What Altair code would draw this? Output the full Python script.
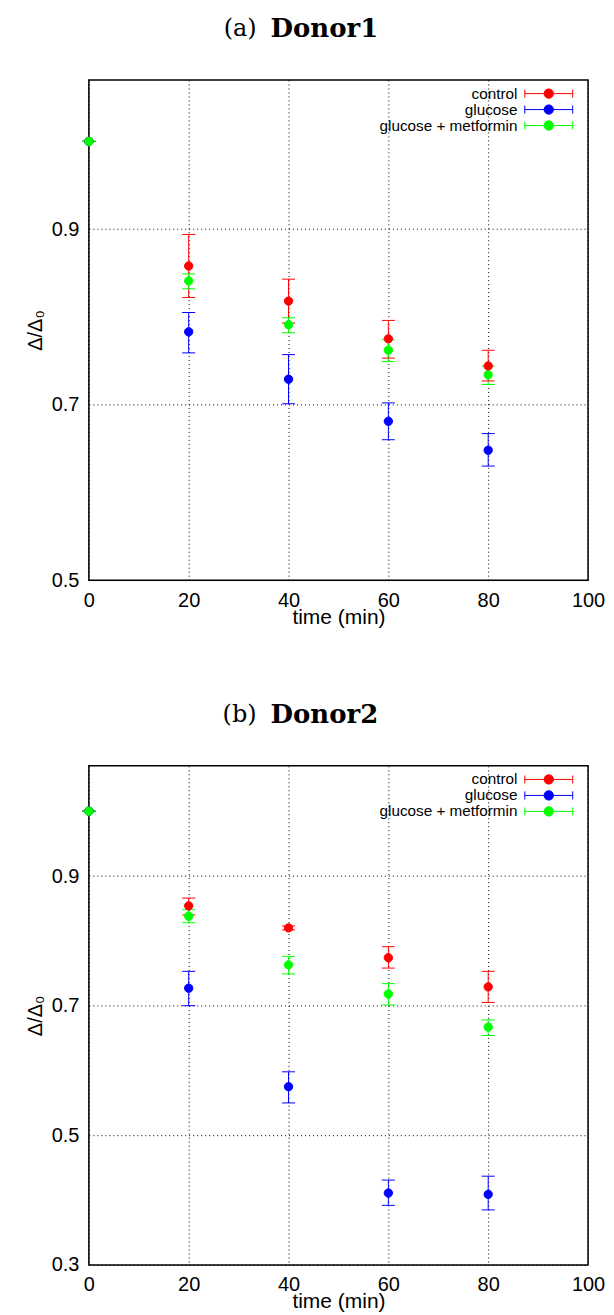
import altair as alt
import pandas as pd

times = [0, 20, 40, 60, 80]
series_names = ["control", "glucose", "glucose + metformin"]
series_colors = ["#ff0000", "#0000ff", "#00ff00"]

# Donor1
d1_control = [1.0, 0.858, 0.818, 0.775, 0.744]
d1_control_lo = [1.0, 0.822, 0.793, 0.753, 0.727]
d1_control_hi = [1.0, 0.894, 0.843, 0.796, 0.762]
d1_glucose = [1.0, 0.783, 0.729, 0.681, 0.648]
d1_glucose_lo = [1.0, 0.759, 0.701, 0.660, 0.630]
d1_glucose_hi = [1.0, 0.805, 0.757, 0.702, 0.667]
d1_metformin = [1.0, 0.841, 0.791, 0.762, 0.734]
d1_metformin_lo = [1.0, 0.832, 0.782, 0.749, 0.723]
d1_metformin_hi = [1.0, 0.849, 0.799, 0.774, 0.744]

# Donor2
d2_control = [1.0, 0.854, 0.820, 0.774, 0.729]
d2_control_lo = [1.0, 0.840, 0.817, 0.758, 0.705]
d2_control_hi = [1.0, 0.866, 0.823, 0.791, 0.753]
d2_glucose = [1.0, 0.727, 0.575, 0.411, 0.409]
d2_glucose_lo = [1.0, 0.700, 0.550, 0.392, 0.385]
d2_glucose_hi = [1.0, 0.753, 0.598, 0.431, 0.437]
d2_metformin = [1.0, 0.838, 0.763, 0.718, 0.667]
d2_metformin_lo = [1.0, 0.828, 0.749, 0.701, 0.654]
d2_metformin_hi = [1.0, 0.848, 0.776, 0.734, 0.678]

x_ticks = [0, 20, 40, 60, 80, 100]
d1_y_ticks = [0.5, 0.7, 0.9]
d2_y_ticks = [0.3, 0.5, 0.7, 0.9]
d1_y_domain = [0.5, 1.07]
d2_y_domain = [0.3, 1.07]

panel_tags = ["(a)", "(b)"]
panel_names = ["Donor1", "Donor2"]

# legend symbol: horizontal error bar with caps and a filled dot,
# drawn to the right of the label
ERRBAR_PATH = ("M2.5,0H10.5M2.5,-0.67V0.67M10.5,-0.67V0.67"
               "M5.72,0A0.78,0.78,0,1,1,7.28,0A0.78,0.78,0,1,1,5.72,0Z")


def build_df(ctrl, ctrl_lo, ctrl_hi, glu, glu_lo, glu_hi, met, met_lo, met_hi):
    rows = []
    for name, m, lo, hi in [
        (series_names[0], ctrl, ctrl_lo, ctrl_hi),
        (series_names[1], glu, glu_lo, glu_hi),
        (series_names[2], met, met_lo, met_hi),
    ]:
        for t, a, b, c in zip(times, m, lo, hi):
            rows.append({"time": t, "series": name, "mean": a, "lo": b, "hi": c})
    return pd.DataFrame(rows)


df1 = build_df(d1_control, d1_control_lo, d1_control_hi,
               d1_glucose, d1_glucose_lo, d1_glucose_hi,
               d1_metformin, d1_metformin_lo, d1_metformin_hi)
df2 = build_df(d2_control, d2_control_lo, d2_control_hi,
               d2_glucose, d2_glucose_lo, d2_glucose_hi,
               d2_metformin, d2_metformin_lo, d2_metformin_hi)


def panel(df, ydom, yticks, h, tag, name):
    color_scale = alt.Scale(domain=series_names, range=series_colors)
    xs = alt.Scale(domain=[0, 100], nice=False, zero=False)
    ys = alt.Scale(domain=ydom, nice=False, zero=False)
    xax = alt.Axis(values=x_ticks, title="time (min)", format="d")
    yax = alt.Axis(values=yticks, title="Δ/Δ₀", format=".1f")
    leg = alt.Legend(orient="none", legendX=414, legendY=6, title=None,
                     symbolType=ERRBAR_PATH, symbolSize=144,
                     symbolStrokeWidth=1, labelAlign="right",
                     labelOffset=0, labelFont="Liberation Sans",
                     labelFontSize=15.3, labelColor="black", padding=0,
                     rowPadding=0, labelLimit=400)
    base = alt.Chart(df)
    x = alt.X("time:Q", scale=xs, axis=xax)
    bars = base.mark_rule(strokeWidth=1).encode(
        x=x,
        y=alt.Y("lo:Q", scale=ys, axis=yax),
        y2="hi:Q",
        stroke=alt.Stroke("series:N", scale=color_scale, legend=leg),
    )
    caps = base.transform_fold(["lo", "hi"], as_=["end", "val"]).mark_tick(
        orient="horizontal", size=13, thickness=1, opacity=1
    ).encode(
        x=x,
        y=alt.Y("val:Q", scale=ys, axis=yax),
        fill=alt.Fill("series:N", scale=color_scale, legend=leg),
    )
    pts = base.mark_point(filled=True, shape="circle", size=70, opacity=1,
                          strokeWidth=1).encode(
        x=x,
        y=alt.Y("mean:Q", scale=ys, axis=yax),
        fill=alt.Fill("series:N", scale=color_scale, legend=leg),
        stroke=alt.Stroke("series:N", scale=color_scale, legend=leg),
    )
    t1 = alt.Chart(pd.DataFrame({"t": [tag]})).mark_text(
        font="DejaVu Serif", fontSize=24, align="right", baseline="middle",
        color="black"
    ).encode(text="t:N", x=alt.value(168), y=alt.value(-51))
    t2 = alt.Chart(pd.DataFrame({"t": [name]})).mark_text(
        font="DejaVu Serif", fontSize=26, fontWeight="bold", align="left",
        baseline="middle", color="black"
    ).encode(text="t:N", x=alt.value(182), y=alt.value(-51))
    return alt.layer(bars, caps, pts, t1, t2).properties(width=500, height=h)


pa = panel(df1, d1_y_domain, d1_y_ticks, 501, panel_tags[0], panel_names[0])
pb = panel(df2, d2_y_domain, d2_y_ticks, 500, panel_tags[1], panel_names[1])

chart = alt.vconcat(pa, pb, spacing=73).resolve_scale(
    fill="independent", stroke="independent", y="independent"
).resolve_legend(
    fill="independent", stroke="independent"
).configure(
    padding={"left": 16, "top": 6, "right": 0, "bottom": 0},
    background="white",
).configure_view(
    stroke="black", strokeWidth=1.5
).configure_axis(
    labelFont="Liberation Sans", labelFontSize=20, labelColor="black",
    labelFlush=False, labelOverlap=False,
    titleFont="Liberation Sans", titleFontSize=20, titleFontWeight="normal",
    titleColor="black", ticks=False, tickSize=0, domain=False,
    gridColor="black", gridDash=[1, 3], gridOpacity=1, gridWidth=1,
).configure_axisX(
    labelPadding=10, titlePadding=-4, titleFontSize=21
).configure_axisY(
    labelPadding=10, titlePadding=6
)

chart.save("out.html", embed_options={"renderer": "svg", "actions": False})
